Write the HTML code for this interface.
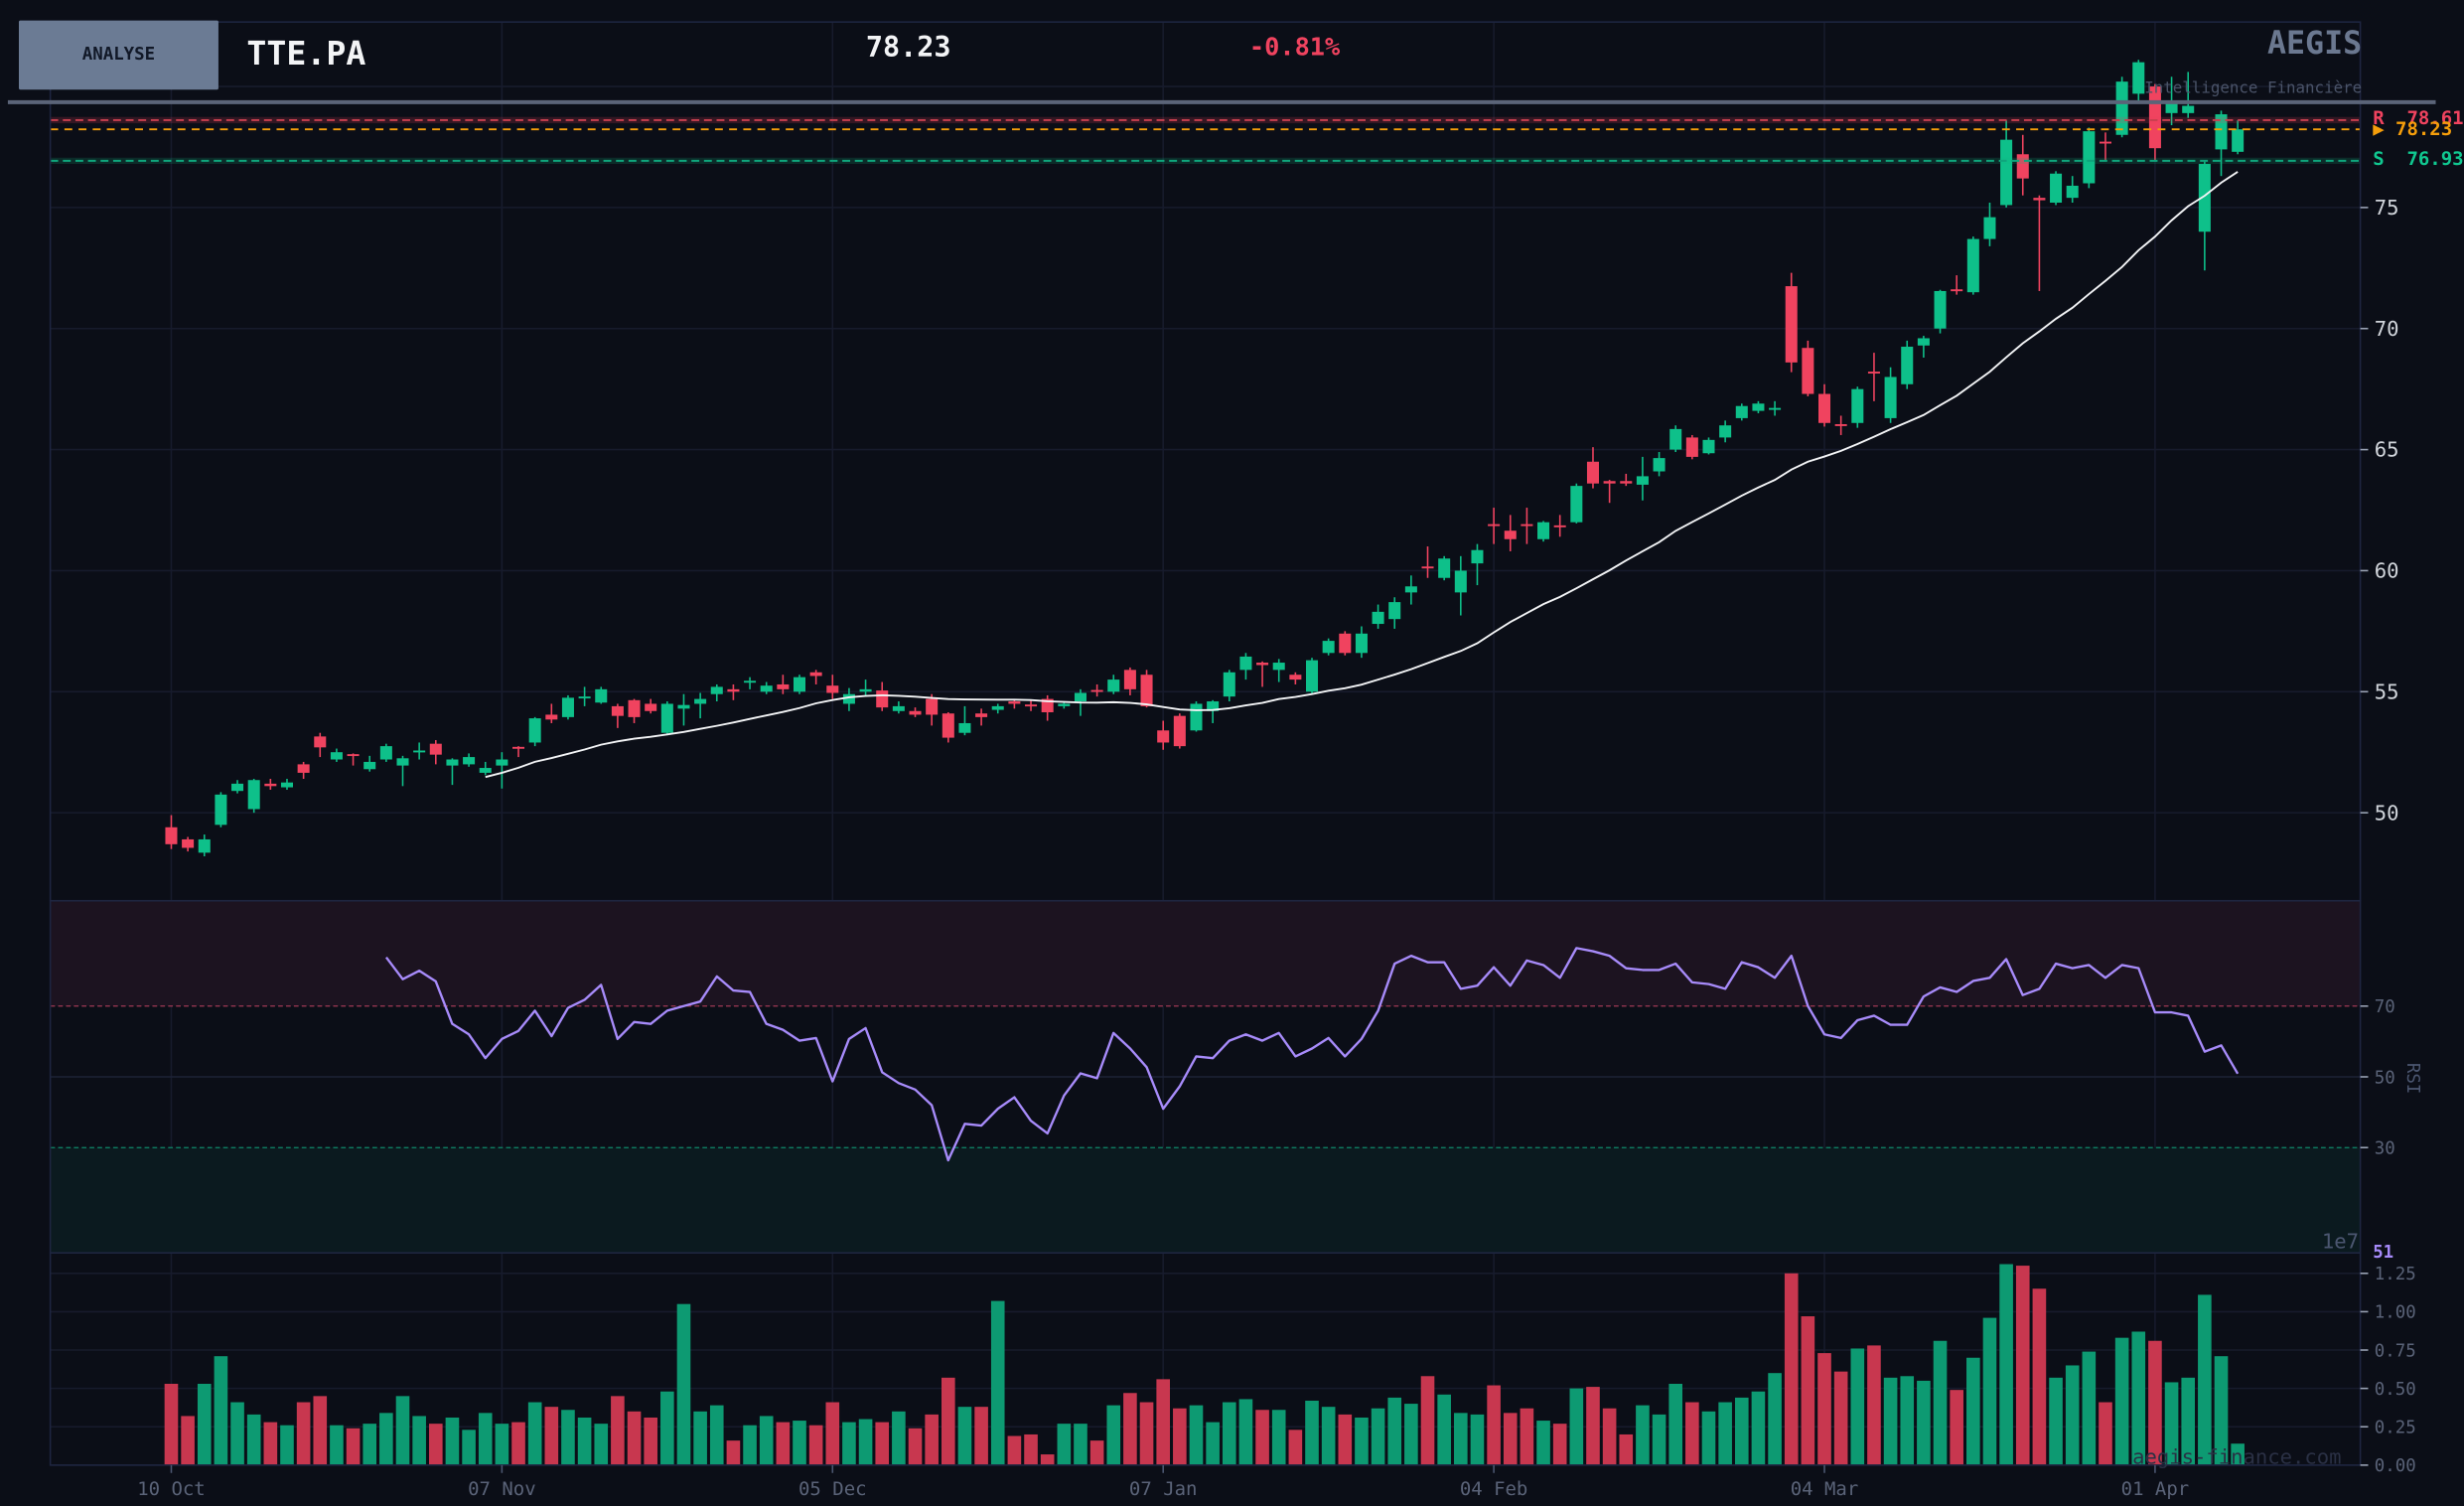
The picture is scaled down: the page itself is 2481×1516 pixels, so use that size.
<!DOCTYPE html>
<html><head><meta charset="utf-8"><title>TTE.PA Analyse</title>
<style>
html,body{margin:0;padding:0;background:#0b0e17;}
svg{display:block;}
text{font-family:"DejaVu Sans Mono","Liberation Mono",monospace;}
.pre{white-space:pre;}
</style></head>
<body>
<svg id="chart" xmlns="http://www.w3.org/2000/svg" width="2481" height="1516" viewBox="0 0 1568 958" preserveAspectRatio="none">
<rect x="0" y="0" width="1568" height="958" fill="#0b0e17"/>
<g id="grid"></g>
<g id="rsiZones">
  <rect x="32" y="573" width="1470" height="67" fill="#1c1320"/>
  <rect x="32" y="730" width="1470" height="67" fill="#0b1a1f"/>
  <line x1="32" x2="1502" y1="640" y2="640" stroke="#a03a55" stroke-width="0.8" stroke-dasharray="3,2"/>
  <line x1="32" x2="1502" y1="730" y2="730" stroke="#10886a" stroke-width="0.8" stroke-dasharray="3,2"/>
</g>
<g id="candles"></g>
<g id="sma"></g>
<g id="levels">
  <line x1="32" x2="1502" y1="76.4" y2="76.4" stroke="#f0435f" stroke-opacity="0.18" stroke-width="4"/>
  <line x1="32" x2="1502" y1="76.4" y2="76.4" stroke="#c8404f" stroke-width="1.2" stroke-dasharray="5,3"/>
  <line x1="32" x2="1502" y1="82.3" y2="82.3" stroke="#f59e0b" stroke-width="1.2" stroke-dasharray="5,4"/>
  <line x1="32" x2="1502" y1="102.3" y2="102.3" stroke="#10b981" stroke-opacity="0.18" stroke-width="4"/>
  <line x1="32" x2="1502" y1="102.3" y2="102.3" stroke="#0fa57c" stroke-width="1.2" stroke-dasharray="5,3"/>
  <text class="pre" x="1510" y="79" font-size="12" font-weight="bold" fill="#f0435f">R  78.61</text>
  <text class="pre" x="1510" y="86" font-size="12" font-weight="bold" fill="#f59e0b">▶ 78.23</text>
  <text class="pre" x="1510" y="105" font-size="12" font-weight="bold" fill="#10c890">S  76.93</text>
</g>
<g id="rsi"></g>
<g id="volume"></g>
<g id="axes">
  <rect x="32" y="14" width="1470" height="559" fill="none" stroke="#1e2540" stroke-width="1"/>
  <rect x="32" y="573" width="1470" height="224" fill="none" stroke="#1e2540" stroke-width="1"/>
  <rect x="32" y="797" width="1470" height="135" fill="none" stroke="#1e2540" stroke-width="1"/>
  <text x="1532" y="686" font-size="11" fill="#4b5670" transform="rotate(90 1532 686)" text-anchor="middle">RSI</text>
  <text x="1501" y="794" font-size="13" fill="#4b5670" text-anchor="end">1e7</text>
  <text x="1510" y="800" font-size="11" font-weight="bold" fill="#a78bfa">51</text>
  <text x="1490" y="931" font-size="13" fill="#2a3044" text-anchor="end">aegis-finance.com</text>
</g>
<g id="header">
  <rect x="12" y="13" width="127" height="44" fill="#6b7b94" rx="1"/>
  <text x="75.5" y="38" font-size="11" font-weight="bold" fill="#111827" text-anchor="middle">ANALYSE</text>
  <text x="157" y="41" font-size="21" font-weight="bold" fill="#f3f4f6">TTE.PA</text>
  <text x="551" y="36" font-size="18" font-weight="bold" fill="#f3f4f6">78.23</text>
  <text x="795" y="35" font-size="16" font-weight="bold" fill="#f0435f">-0.81%</text>
  <text x="1503" y="34" font-size="20" font-weight="bold" fill="#6b7890" text-anchor="end">AEGIS</text>
  <text x="1503" y="59" font-size="10" fill="#4a5368" text-anchor="end">Intelligence Financière</text>
  <line x1="5" x2="1550" y1="65" y2="65" stroke="#5b6478" stroke-width="2.5"/>
</g>
</svg>
<script>
const dateLabels = ["10 Oct","07 Nov","05 Dec","07 Jan","04 Feb","04 Mar","01 Apr"];
const dateIndex = [0,20,40,60,80,100,120];
const priceTicks = [50,55,60,65,70,75];
const rsiTicks = [70,50,30];
const volTicks = [0,0.25,0.5,0.75,1.0,1.25];
const opens = [49.4,48.9,48.35,49.5,50.9,50.15,51.2,51.05,52.0,53.15,52.2,52.42,51.8,52.2,51.95,52.53,52.85,51.95,52.0,51.65,51.95,52.72,52.9,54.05,53.95,54.75,54.55,54.4,54.65,54.5,53.3,54.3,54.5,54.9,55.1,55.4,55.0,55.3,55.0,55.8,55.25,54.5,55.0,55.05,54.2,54.2,54.7,54.1,53.3,54.1,54.25,54.6,54.47,54.7,54.4,54.6,55.07,55.0,55.9,55.7,53.4,54.0,53.4,54.2,54.8,55.9,56.2,55.9,55.7,55.0,56.6,57.4,56.6,57.8,58.0,59.1,60.17,59.7,59.1,60.3,61.92,61.65,61.92,61.3,61.87,62.0,64.5,63.7,63.7,63.55,64.1,65.0,65.5,64.85,65.5,66.3,66.6,66.68,71.75,69.2,67.3,66.05,66.1,68.22,66.3,67.7,69.3,70.0,71.62,71.5,73.7,75.1,77.2,75.4,75.2,75.4,76.0,77.72,78.0,79.7,80.0,78.9,78.9,74.0,77.4,77.3];
const closes = [48.7,48.55,48.9,50.75,51.2,51.35,51.1,51.25,51.65,52.7,52.5,52.38,52.1,52.75,52.25,52.57,52.4,52.2,52.3,51.85,52.2,52.68,53.9,53.85,54.75,54.8,55.1,54.0,53.95,54.2,54.5,54.45,54.7,55.2,55.0,55.45,55.25,55.1,55.6,55.65,54.95,54.9,55.1,54.35,54.4,54.05,54.05,53.1,53.7,53.95,54.4,54.5,54.43,54.15,54.5,54.95,55.03,55.5,55.1,54.4,52.9,52.75,54.5,54.6,55.8,56.45,56.1,56.2,55.5,56.3,57.1,56.6,57.4,58.3,58.7,59.35,60.13,60.5,60.0,60.85,61.88,61.3,61.88,62.0,61.83,63.5,63.6,63.6,63.6,63.9,64.65,65.85,64.7,65.4,66.0,66.8,66.9,66.72,68.6,67.3,66.1,65.98,67.5,68.18,68.0,69.25,69.6,71.55,71.58,73.7,74.6,77.8,76.2,75.3,76.4,75.9,78.15,77.68,80.2,81.0,77.45,79.35,79.2,76.8,78.85,78.23];
const highs = [49.9,49.0,49.1,50.85,51.35,51.4,51.4,51.4,52.1,53.3,52.65,52.45,52.35,52.85,52.35,52.9,53.0,52.25,52.45,52.1,52.5,52.75,53.95,54.5,54.85,55.2,55.2,54.5,54.7,54.7,54.6,54.9,54.95,55.3,55.3,55.6,55.4,55.7,55.7,55.9,55.7,55.15,55.5,55.4,54.6,54.35,54.9,54.15,54.4,54.3,54.5,54.7,54.65,54.85,54.6,55.1,55.3,55.7,56.0,55.9,53.8,54.1,54.6,54.65,55.9,56.6,56.25,56.35,55.8,56.4,57.2,57.5,57.7,58.6,58.9,59.8,61.0,60.6,60.6,61.1,62.6,62.3,62.6,62.05,62.3,63.6,65.1,63.75,64.0,64.7,64.9,66.0,65.6,65.5,66.2,66.9,67.0,67.0,72.3,69.5,67.7,66.4,67.6,69.0,68.4,69.5,69.7,71.6,72.2,73.8,75.2,78.6,78.0,75.5,76.5,76.3,78.3,78.1,80.4,81.1,80.1,80.4,80.6,76.9,79.0,78.6];
const lows = [48.5,48.4,48.2,49.4,50.8,50.0,50.95,50.95,51.4,52.3,52.1,51.95,51.7,52.1,51.1,52.2,52.0,51.15,51.9,51.55,51.0,52.3,52.75,53.7,53.85,54.4,54.5,53.5,53.7,54.1,53.2,53.6,53.9,54.6,54.65,55.1,54.9,54.9,54.9,55.3,54.7,54.2,54.8,54.2,54.1,53.95,53.6,52.9,53.2,53.6,54.1,54.3,54.2,53.8,54.3,54.0,54.8,54.9,54.85,54.35,52.6,52.65,53.35,53.7,54.6,55.5,55.2,55.4,55.3,54.9,56.5,56.5,56.4,57.6,57.6,58.6,59.7,59.6,58.15,59.4,61.1,60.8,61.1,61.2,61.4,61.95,63.4,62.8,63.5,62.9,63.9,64.9,64.6,64.8,65.3,66.2,66.5,66.4,68.2,67.2,65.95,65.6,65.9,67.0,66.1,67.5,68.8,69.8,71.4,71.4,73.4,75.0,75.5,71.55,75.1,75.2,75.8,76.9,77.9,79.4,76.9,78.4,78.7,72.4,76.3,77.2];
const volumes = [0.53,0.32,0.53,0.71,0.41,0.33,0.28,0.26,0.41,0.45,0.26,0.24,0.27,0.34,0.45,0.32,0.27,0.31,0.23,0.34,0.27,0.28,0.41,0.38,0.36,0.31,0.27,0.45,0.35,0.31,0.48,1.05,0.35,0.39,0.16,0.26,0.32,0.28,0.29,0.26,0.41,0.28,0.30,0.28,0.35,0.24,0.33,0.57,0.38,0.38,1.07,0.19,0.20,0.07,0.27,0.27,0.16,0.39,0.47,0.41,0.56,0.37,0.39,0.28,0.41,0.43,0.36,0.36,0.23,0.42,0.38,0.33,0.31,0.37,0.44,0.40,0.58,0.46,0.34,0.33,0.52,0.34,0.37,0.29,0.27,0.50,0.51,0.37,0.20,0.39,0.33,0.53,0.41,0.35,0.41,0.44,0.48,0.60,1.25,0.97,0.73,0.61,0.76,0.78,0.57,0.58,0.55,0.81,0.49,0.70,0.96,1.31,1.30,1.15,0.57,0.65,0.74,0.41,0.83,0.87,0.81,0.54,0.57,1.11,0.71,0.14];
const rsiStart = 13;
const rsiValues = [83.8,77.6,80,77,65,62,55.3,60.7,63,68.7,61.5,69.5,71.8,76,60.7,65.5,65,68.7,70,71.3,78.4,74.4,74,65,63.3,60.2,61,48.7,60.7,63.8,51.3,48.2,46.4,42,26.4,36.7,36.2,41,44.2,37.6,34,44.7,51,49.6,62.4,58,52.7,41,47.3,55.8,55.3,60.2,62,60.2,62.4,55.8,58,61,55.8,60.7,68.7,82,84.2,82.4,82.4,74.9,75.8,81,75.8,82.9,81.6,78,86.4,85.5,84.2,80.7,80.2,80.2,82,76.7,76.2,74.9,82.4,81,78,84.2,70,62,61,66,67.3,64.7,64.7,72.7,75.3,74,77.1,78,83.3,73.1,74.9,82,80.7,81.6,78,81.6,80.7,68.2,68.2,67.3,57.1,58.9,50.9];
const smaPeriod = 20;

const NS = "http://www.w3.org/2000/svg";
function xs(i){ return 109 + i * 10.52; }
function yp(p){ return 517 - (p - 50) * 15.4; }
function yr(r){ return 685 - (r - 50) * 2.25; }
function yv(v){ return 932 - v * 97.6; }
function mk(tag, attrs, parent){
  const e = document.createElementNS(NS, tag);
  for (const k in attrs) e.setAttribute(k, attrs[k]);
  parent.appendChild(e);
  return e;
}
const grid = document.getElementById('grid');
const axes = document.getElementById('axes');
dateIndex.forEach((di, k) => {
  const x = xs(di);
  const l = mk('line', {x1:x, x2:x, y1:14, y2:932, stroke:'#171b2c', 'stroke-width':1}, grid);
  
  
  const t = mk('line', {x1:x, x2:x, y1:932, y2:937, stroke:'#4b5670', 'stroke-width':1}, axes);
  
  
  const tx = mk('text', {x:x, y:951, 'font-size':12, fill:'#5a6378', 'text-anchor':'middle'}, axes);
  tx.textContent = dateLabels[k];
  
  
});
[50,55,60,65,70,75,80].forEach(p => {
  const l = mk('line', {x1:32, x2:1502, y1:yp(p), y2:yp(p), stroke:'#171b2c', 'stroke-width':1}, grid);
  
  
});
priceTicks.forEach(p => {
  const t = mk('line', {x1:1502, x2:1507, y1:yp(p), y2:yp(p), stroke:'#9aa3b5', 'stroke-width':1}, axes);
  
  
  const tx = mk('text', {x:1511, y:yp(p)+4.5, 'font-size':13, fill:'#d1d5db'}, axes);
  tx.textContent = String(p);
  
  
});
const g50 = mk('line', {x1:32, x2:1502, y1:yr(50), y2:yr(50), stroke:'#1d2236', 'stroke-width':1}, grid);


rsiTicks.forEach(r => {
  const t = mk('line', {x1:1502, x2:1507, y1:yr(r), y2:yr(r), stroke:'#9aa3b5', 'stroke-width':1}, axes);
  
  
  const tx = mk('text', {x:1511, y:yr(r)+4, 'font-size':11, fill:'#5a6378'}, axes);
  tx.textContent = String(r);
  
  
});
volTicks.forEach(v => {
  const l = mk('line', {x1:32, x2:1502, y1:yv(v), y2:yv(v), stroke:'#171b2c', 'stroke-width':1}, grid);
  
  
  const t = mk('line', {x1:1502, x2:1507, y1:yv(v), y2:yv(v), stroke:'#9aa3b5', 'stroke-width':1}, axes);
  
  
  const tx = mk('text', {x:1511, y:yv(v)+4, 'font-size':11, fill:'#5a6378'}, axes);
  tx.textContent = v.toFixed(2);
  
  
});
const cg = document.getElementById('candles');
for (let i = 0; i < opens.length; i++) {
  const up = closes[i] >= opens[i];
  const col = up ? '#0ec08a' : '#f0435f';
  const x = xs(i);
  const w = mk('line', {x1:x, x2:x, y1:yp(highs[i]), y2:yp(lows[i]), stroke:col, 'stroke-width':1}, cg);
  
  
  const top = yp(Math.max(opens[i], closes[i]));
  const h = Math.max(1.2, Math.abs(yp(opens[i]) - yp(closes[i])));
  const b = mk('rect', {x:x-3.8, y:top, width:7.6, height:h, fill:col}, cg);
  
  
}
let sp = '';
for (let i = smaPeriod - 1; i < closes.length; i++) {
  let s = 0;
  for (let j = i - smaPeriod + 1; j <= i; j++) s += closes[j];
  sp += (sp ? 'L' : 'M') + xs(i).toFixed(1) + ',' + yp(s / smaPeriod).toFixed(1);
}
const smaPath = mk('path', {d:sp, fill:'none', stroke:'#f3f4f6', 'stroke-width':1.2}, document.getElementById('sma'));


let rp = '';
rsiValues.forEach((r, k) => { rp += (k ? 'L' : 'M') + xs(rsiStart + k).toFixed(1) + ',' + yr(r).toFixed(1); });
const rsiPath = mk('path', {d:rp, fill:'none', stroke:'#a78bfa', 'stroke-width':1.5, 'stroke-linejoin':'round'}, document.getElementById('rsi'));


const vg = document.getElementById('volume');
volumes.forEach((v, i) => {
  const up = closes[i] >= opens[i];
  const r = mk('rect', {x:xs(i)-4.3, y:yv(v), width:8.6, height:932-yv(v), fill: up ? '#0d9a72' : '#c8374f'}, vg);
  
  
});
</script>
</body></html>
